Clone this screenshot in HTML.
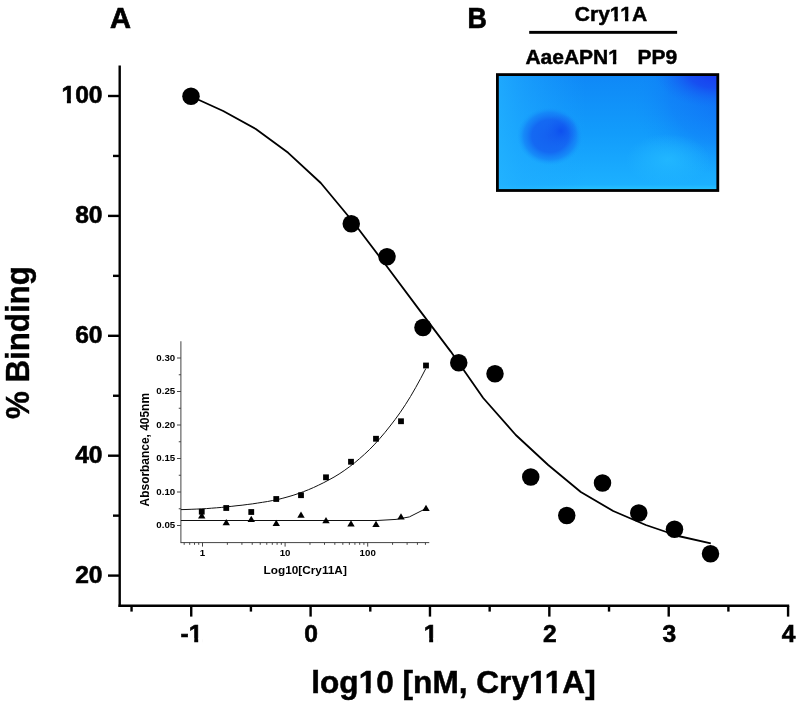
<!DOCTYPE html><html><head><meta charset="utf-8"><title>Figure</title><style>
html,body{margin:0;padding:0;background:#fff;}body{width:800px;height:705px;overflow:hidden;position:relative;font-family:"Liberation Sans",sans-serif;}
svg{position:absolute;left:0;top:0;display:block;will-change:transform}
text{font-family:"Liberation Sans",sans-serif;font-weight:bold;fill:#000}
</style></head><body>
<svg width="800" height="705" viewBox="0 0 800 705">
<defs>
<linearGradient id="bg" x1="0" y1="0" x2="0" y2="1"><stop offset="0" stop-color="#0f88f7"/><stop offset="0.5" stop-color="#129cfb"/><stop offset="0.95" stop-color="#1cb0ff"/><stop offset="1" stop-color="#2ac6ff"/></linearGradient>
<linearGradient id="leftl" x1="0" y1="0" x2="1" y2="0"><stop offset="0" stop-color="#24b4ff" stop-opacity="0.75"/><stop offset="0.12" stop-color="#20acff" stop-opacity="0.55"/><stop offset="0.4" stop-color="#1ca4ff" stop-opacity="0"/></linearGradient>
<radialGradient id="spot" cx="0.5" cy="0.5" r="0.5"><stop offset="0" stop-color="#1460f0" stop-opacity="1"/><stop offset="0.55" stop-color="#1466f2" stop-opacity="0.95"/><stop offset="0.8" stop-color="#147cf6" stop-opacity="0.65"/><stop offset="1" stop-color="#149cfb" stop-opacity="0"/></radialGradient>
<radialGradient id="spot2" cx="0.5" cy="0.5" r="0.5"><stop offset="0" stop-color="#0c48ee" stop-opacity="0.75"/><stop offset="1" stop-color="#1460f0" stop-opacity="0"/></radialGradient>
<radialGradient id="corner" cx="0.5" cy="0.5" r="0.5"><stop offset="0" stop-color="#1a36ee" stop-opacity="1"/><stop offset="0.45" stop-color="#1848f0" stop-opacity="0.85"/><stop offset="1" stop-color="#1270f6" stop-opacity="0"/></radialGradient>
<radialGradient id="corner2" cx="0.5" cy="0.5" r="0.5"><stop offset="0" stop-color="#1060f4" stop-opacity="0.7"/><stop offset="0.6" stop-color="#1070f6" stop-opacity="0.4"/><stop offset="1" stop-color="#1090fa" stop-opacity="0"/></radialGradient>
<radialGradient id="light" cx="0.5" cy="0.5" r="0.5"><stop offset="0" stop-color="#22b8ff" stop-opacity="0.9"/><stop offset="1" stop-color="#22b8ff" stop-opacity="0"/></radialGradient>
<clipPath id="boxclip"><rect x="497.5" y="75" width="220" height="115.2"/></clipPath>
</defs>
<text x="120.5" y="28" font-size="29" text-anchor="middle" stroke="#000" stroke-width="0.7">A</text>
<text x="467.5" y="28" font-size="29" textLength="19.3" lengthAdjust="spacingAndGlyphs" stroke="#000" stroke-width="0.7">B</text>
<text x="611" y="20.5" font-size="21" text-anchor="middle" stroke="#000" stroke-width="0.5">Cry11A</text>
<rect x="529.2" y="30.9" width="147.9" height="2.9" fill="#000"/>
<text x="525.4" y="63.5" font-size="21" stroke="#000" stroke-width="0.5">AaeAPN1</text>
<text x="637.6" y="63.5" font-size="21" stroke="#000" stroke-width="0.5">PP9</text>
<rect x="497.4" y="74.9" width="220.2" height="115.4" fill="url(#bg)"/>
<g clip-path="url(#boxclip)">
<rect x="497" y="74" width="222" height="117" fill="url(#leftl)"/>
<ellipse cx="730" cy="96" rx="100" ry="80" fill="url(#corner2)"/>
<ellipse cx="716" cy="72" rx="62" ry="36" fill="url(#corner)"/>
<ellipse cx="668" cy="160" rx="42" ry="26" fill="url(#light)"/>
<ellipse cx="550" cy="136" rx="33" ry="29.5" fill="url(#spot)"/>
<ellipse cx="561" cy="131" rx="17" ry="17" fill="url(#spot2)"/>
</g>
<rect x="497.4" y="74.6" width="220.4" height="115.9" fill="none" stroke="#000" stroke-width="2.8"/>
<g stroke="#000" stroke-width="2.4" fill="none" stroke-linecap="butt">
<path d="M119.7 65.4V607"/>
<path d="M118.5 605.8H789.2"/>
<path d="M108 96.00H119.7"/>
<path d="M108 215.90H119.7"/>
<path d="M108 335.80H119.7"/>
<path d="M108 455.70H119.7"/>
<path d="M108 575.60H119.7"/>
<path d="M113 155.95H119.7"/>
<path d="M113 275.85H119.7"/>
<path d="M113 395.75H119.7"/>
<path d="M113 515.65H119.7"/>
<path d="M191.23 605.8V616.6"/>
<path d="M310.60 605.8V616.6"/>
<path d="M429.97 605.8V616.6"/>
<path d="M549.34 605.8V616.6"/>
<path d="M668.71 605.8V616.6"/>
<path d="M788.08 605.8V616.6"/>
<path d="M131.55 605.8V611.6"/>
<path d="M250.92 605.8V611.6"/>
<path d="M370.29 605.8V611.6"/>
<path d="M489.66 605.8V611.6"/>
<path d="M609.03 605.8V611.6"/>
<path d="M728.39 605.8V611.6"/>
</g>
<text x="102.5" y="102.90" font-size="24.6" text-anchor="end" stroke="#000" stroke-width="0.6">100</text>
<text x="102.5" y="222.80" font-size="24.6" text-anchor="end" stroke="#000" stroke-width="0.6">80</text>
<text x="102.5" y="342.70" font-size="24.6" text-anchor="end" stroke="#000" stroke-width="0.6">60</text>
<text x="102.5" y="462.60" font-size="24.6" text-anchor="end" stroke="#000" stroke-width="0.6">40</text>
<text x="102.5" y="582.50" font-size="24.6" text-anchor="end" stroke="#000" stroke-width="0.6">20</text>
<text x="191.53" y="641.8" font-size="24.6" text-anchor="middle" stroke="#000" stroke-width="0.6">-1</text>
<text x="311.20" y="641.8" font-size="24.6" text-anchor="middle" stroke="#000" stroke-width="0.6">0</text>
<text x="430.57" y="641.8" font-size="24.6" text-anchor="middle" stroke="#000" stroke-width="0.6">1</text>
<text x="549.94" y="641.8" font-size="24.6" text-anchor="middle" stroke="#000" stroke-width="0.6">2</text>
<text x="669.31" y="641.8" font-size="24.6" text-anchor="middle" stroke="#000" stroke-width="0.6">3</text>
<text x="788.68" y="641.8" font-size="24.6" text-anchor="middle" stroke="#000" stroke-width="0.6">4</text>
<text transform="translate(28.7 342.6) rotate(-90)" font-size="32.3" text-anchor="middle" textLength="152.8" lengthAdjust="spacingAndGlyphs" stroke="#000" stroke-width="0.4">% Binding</text>
<text x="453.5" y="692.6" font-size="31.6" text-anchor="middle" stroke="#000" stroke-width="0.5">log10 [nM, Cry11A]</text>
<polyline fill="none" stroke="#000" stroke-width="1.8" stroke-linejoin="round" points="190.8,96.2 223.2,111.0 255.8,129.0 288.2,152.8 320.8,183.0 353.2,222.0 385.8,265.0 418.2,308.4 450.8,351.6 483.2,398.0 515.8,435.0 548.2,465.0 580.8,492.0 613.2,511.0 645.8,525.0 678.2,536.0 710.8,543.3"/>
<circle cx="191.00" cy="96.25" r="8.75" fill="#000"/>
<circle cx="351.25" cy="223.75" r="8.75" fill="#000"/>
<circle cx="387.00" cy="256.75" r="8.75" fill="#000"/>
<circle cx="423.00" cy="327.50" r="8.75" fill="#000"/>
<circle cx="458.75" cy="362.75" r="8.75" fill="#000"/>
<circle cx="495.00" cy="373.75" r="8.75" fill="#000"/>
<circle cx="530.75" cy="477.00" r="8.75" fill="#000"/>
<circle cx="566.75" cy="515.50" r="8.75" fill="#000"/>
<circle cx="602.50" cy="483.00" r="8.75" fill="#000"/>
<circle cx="638.75" cy="513.00" r="8.75" fill="#000"/>
<circle cx="674.50" cy="529.25" r="8.75" fill="#000"/>
<circle cx="710.50" cy="553.75" r="8.75" fill="#000"/>
<g stroke="#3a3a3a" stroke-width="0.95" fill="none">
<path d="M180.90 341.25V543.10"/>
<path d="M180.90 542.60H429.25"/>
<path d="M177 525.50H180.90"/>
<path d="M177 492.00H180.90"/>
<path d="M177 458.50H180.90"/>
<path d="M177 425.00H180.90"/>
<path d="M177 391.50H180.90"/>
<path d="M177 358.00H180.90"/>
<path d="M178.75 508.75H180.90"/>
<path d="M178.75 475.25H180.90"/>
<path d="M178.75 441.75H180.90"/>
<path d="M178.75 408.25H180.90"/>
<path d="M178.75 374.75H180.90"/>
<path d="M202.50 542.60V546.60"/>
<path d="M285.10 542.60V546.60"/>
<path d="M367.70 542.60V546.60"/>
<path d="M184.18 542.60V544.80"/>
<path d="M189.71 542.60V544.80"/>
<path d="M194.50 542.60V544.80"/>
<path d="M198.72 542.60V544.80"/>
<path d="M227.37 542.60V544.80"/>
<path d="M241.91 542.60V544.80"/>
<path d="M252.23 542.60V544.80"/>
<path d="M260.23 542.60V544.80"/>
<path d="M266.78 542.60V544.80"/>
<path d="M272.31 542.60V544.80"/>
<path d="M277.10 542.60V544.80"/>
<path d="M281.32 542.60V544.80"/>
<path d="M309.97 542.60V544.80"/>
<path d="M324.51 542.60V544.80"/>
<path d="M334.83 542.60V544.80"/>
<path d="M342.83 542.60V544.80"/>
<path d="M349.38 542.60V544.80"/>
<path d="M354.91 542.60V544.80"/>
<path d="M359.70 542.60V544.80"/>
<path d="M363.92 542.60V544.80"/>
<path d="M392.57 542.60V544.80"/>
<path d="M407.11 542.60V544.80"/>
<path d="M417.43 542.60V544.80"/>
<path d="M425.43 542.60V544.80"/>
</g>
<text x="175.2" y="528.10" font-size="9.7" text-anchor="end">0.05</text>
<text x="175.2" y="494.60" font-size="9.7" text-anchor="end">0.10</text>
<text x="175.2" y="461.10" font-size="9.7" text-anchor="end">0.15</text>
<text x="175.2" y="427.60" font-size="9.7" text-anchor="end">0.20</text>
<text x="175.2" y="394.10" font-size="9.7" text-anchor="end">0.25</text>
<text x="175.2" y="360.60" font-size="9.7" text-anchor="end">0.30</text>
<text x="202.50" y="555.9" font-size="9.7" text-anchor="middle">1</text>
<text x="285.10" y="555.9" font-size="9.7" text-anchor="middle">10</text>
<text x="367.70" y="555.9" font-size="9.7" text-anchor="middle">100</text>
<text transform="translate(148.8 449.7) rotate(-90)" font-size="11.95" text-anchor="middle">Absorbance, 405nm</text>
<text x="305.2" y="574.3" font-size="11.8" text-anchor="middle">Log10[Cry11A]</text>
<polyline fill="none" stroke="#111" stroke-width="1" stroke-linejoin="round" points="180.9,509.6 186.0,509.5 191.1,509.3 196.2,509.1 201.3,508.9 206.4,508.6 211.5,508.2 216.6,507.8 221.7,507.4 226.8,506.8 231.9,506.3 237.0,505.7 242.1,505.2 247.2,504.5 252.3,503.9 257.4,503.1 262.5,502.3 267.6,501.5 272.7,500.5 277.8,499.5 282.9,498.2 288.0,496.8 293.1,495.3 298.2,493.6 303.4,491.7 308.5,489.7 313.6,487.5 318.7,485.1 323.8,482.6 328.9,479.9 334.0,477.1 339.1,474.0 344.2,470.6 349.3,466.9 354.4,463.0 359.5,458.7 364.6,454.2 369.7,449.4 374.8,444.1 379.9,438.4 385.0,432.4 390.1,426.0 395.2,419.4 400.3,412.3 405.4,404.7 410.5,396.5 415.6,387.7 420.7,378.4 425.8,368.6"/>
<polyline fill="none" stroke="#111" stroke-width="1" stroke-linejoin="round" points="180.9,520.5 377,520.5 396,519.4 409.4,516.9 425.8,508.6"/>
<rect x="198.85" y="508.80" width="5.8" height="5.8" fill="#000"/>
<rect x="223.35" y="505.10" width="5.8" height="5.8" fill="#000"/>
<rect x="248.35" y="509.10" width="5.8" height="5.8" fill="#000"/>
<rect x="273.35" y="496.10" width="5.8" height="5.8" fill="#000"/>
<rect x="298.10" y="492.30" width="5.8" height="5.8" fill="#000"/>
<rect x="323.10" y="474.40" width="5.8" height="5.8" fill="#000"/>
<rect x="348.10" y="458.85" width="5.8" height="5.8" fill="#000"/>
<rect x="373.10" y="435.85" width="5.8" height="5.8" fill="#000"/>
<rect x="398.10" y="418.35" width="5.8" height="5.8" fill="#000"/>
<rect x="423.10" y="362.60" width="5.8" height="5.8" fill="#000"/>
<path d="M201.75 512.00L205.45 518.40L198.05 518.40Z" fill="#000"/>
<path d="M226.25 518.90L229.95 525.30L222.55 525.30Z" fill="#000"/>
<path d="M251.25 515.65L254.95 522.05L247.55 522.05Z" fill="#000"/>
<path d="M276.25 519.65L279.95 526.05L272.55 526.05Z" fill="#000"/>
<path d="M301.00 511.40L304.70 517.80L297.30 517.80Z" fill="#000"/>
<path d="M326.00 516.90L329.70 523.30L322.30 523.30Z" fill="#000"/>
<path d="M351.00 520.15L354.70 526.55L347.30 526.55Z" fill="#000"/>
<path d="M376.00 520.65L379.70 527.05L372.30 527.05Z" fill="#000"/>
<path d="M401.00 513.15L404.70 519.55L397.30 519.55Z" fill="#000"/>
<path d="M426.00 504.65L429.70 511.05L422.30 511.05Z" fill="#000"/>
<g shape-rendering="geometricPrecision">
<rect x="609.89" y="17.31" width="4.58" height="5.04" fill="#fff"/>
<rect x="617.85" y="17.31" width="3.76" height="5.04" fill="#fff"/>
<rect x="620.41" y="17.31" width="4.58" height="5.04" fill="#fff"/>
<rect x="628.37" y="17.31" width="3.76" height="5.04" fill="#fff"/>
<rect x="608.33" y="60.31" width="4.58" height="5.04" fill="#fff"/>
<rect x="616.29" y="60.31" width="3.76" height="5.04" fill="#fff"/>
<rect x="61.70" y="99.29" width="5.19" height="5.51" fill="#fff"/>
<rect x="70.87" y="99.29" width="4.33" height="5.51" fill="#fff"/>
<rect x="189.03" y="638.19" width="5.19" height="5.51" fill="#fff"/>
<rect x="198.20" y="638.19" width="4.33" height="5.51" fill="#fff"/>
<rect x="423.98" y="638.19" width="5.19" height="5.51" fill="#fff"/>
<rect x="433.14" y="638.19" width="4.33" height="5.51" fill="#fff"/>
<rect x="359.41" y="688.33" width="6.38" height="6.12" fill="#fff"/>
<rect x="370.63" y="688.33" width="5.43" height="6.12" fill="#fff"/>
<rect x="529.69" y="688.33" width="6.38" height="6.12" fill="#fff"/>
<rect x="540.91" y="688.33" width="5.43" height="6.12" fill="#fff"/>
<rect x="545.52" y="688.33" width="6.38" height="6.12" fill="#fff"/>
<rect x="556.74" y="688.33" width="5.43" height="6.12" fill="#fff"/>
</g>
</svg></body></html>
